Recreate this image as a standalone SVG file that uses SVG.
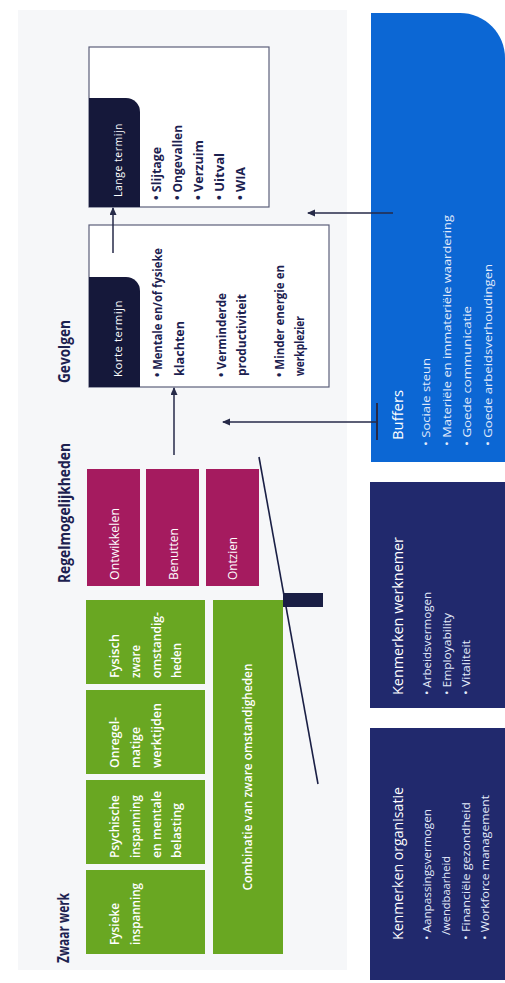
<svg xmlns="http://www.w3.org/2000/svg" width="505" height="983" viewBox="0 0 505 983">
<style>
text{font-family:"Open Sans","Noto Sans","Liberation Sans",sans-serif}
.title{font-size:16px;font-weight:700;fill:#1c2150}
.wt{font-size:12.5px;fill:#ffffff}
.gt{font-weight:600}
.green{fill:#69a722}
.mag{fill:#a51b5f}
.box{fill:#ffffff;stroke:#5c5f7a;stroke-width:1.2}
.tab{fill:#15183a}
.tabt{font-size:10.5px;fill:#ffffff;letter-spacing:0.5px}
.bul{font-size:12.5px;font-weight:700;fill:#1c2150}
.navy{fill:#21296d}
.blue{fill:#0c67d4}
.bh{font-size:14px;fill:#ffffff}
.bs{font-size:10.5px;fill:#e3ebfb}
.conn{stroke:#262a48;stroke-width:1.5;fill:none}
</style>
<defs>
<marker id="ah" markerWidth="8" markerHeight="8" refX="7" refY="3.5" orient="auto" markerUnits="userSpaceOnUse">
<path d="M0,0 L8,3.5 L0,7 z" fill="#262a48"/>
</marker>
</defs>
<rect x="0" y="0" width="505" height="983" fill="#ffffff"/>
<g transform="translate(0,983) rotate(-90)">
<rect x="13" y="18" width="960" height="329" fill="#f6f7f9"/>

<g id="zwaar-werk-title"><text class="title" x="20" y="69" textLength="70" lengthAdjust="spacingAndGlyphs">Zwaar werk</text></g>

<g id="fysieke-inspanning">
<rect class="green" x="29" y="86" width="84" height="119"/>
<text class="wt gt" x="38" y="119" textLength="42" lengthAdjust="spacingAndGlyphs">Fysieke</text>
<text class="wt gt" x="38" y="140" textLength="62" lengthAdjust="spacingAndGlyphs">inspanning</text>
</g>
<g id="psychische-inspanning">
<rect class="green" x="119" y="86" width="84" height="119"/>
<text class="wt gt" x="125" y="119" textLength="63" lengthAdjust="spacingAndGlyphs">Psychische</text>
<text class="wt gt" x="125" y="140" textLength="63" lengthAdjust="spacingAndGlyphs">inspanning</text>
<text class="wt gt" x="125" y="161" textLength="67" lengthAdjust="spacingAndGlyphs">en mentale</text>
<text class="wt gt" x="125" y="181" textLength="55" lengthAdjust="spacingAndGlyphs">belasting</text>
</g>
<g id="onregelmatige-werktijden">
<rect class="green" x="209" y="86" width="84" height="119"/>
<text class="wt gt" x="215" y="119" textLength="51" lengthAdjust="spacingAndGlyphs">Onregel-</text>
<text class="wt gt" x="215" y="140" textLength="41" lengthAdjust="spacingAndGlyphs">matige</text>
<text class="wt gt" x="215" y="161" textLength="65" lengthAdjust="spacingAndGlyphs">werktijden</text>
</g>
<g id="fysisch-zware-omstandigheden">
<rect class="green" x="299" y="86" width="84" height="119"/>
<text class="wt gt" x="305" y="119" textLength="44" lengthAdjust="spacingAndGlyphs">Fysisch</text>
<text class="wt gt" x="305" y="140" textLength="33" lengthAdjust="spacingAndGlyphs">zware</text>
<text class="wt gt" x="305" y="161" textLength="66" lengthAdjust="spacingAndGlyphs">omstandig-</text>
<text class="wt gt" x="305" y="181" textLength="35" lengthAdjust="spacingAndGlyphs">heden</text>
</g>
<g id="combinatie">
<rect class="green" x="29" y="213" width="354" height="70"/>
<text class="wt gt" x="206" y="252" text-anchor="middle" font-size="13" textLength="227" lengthAdjust="spacingAndGlyphs">Combinatie van zware omstandigheden</text>
</g>

<g id="regelmogelijkheden-title"><text class="title" x="400" y="70" textLength="140" lengthAdjust="spacingAndGlyphs">Regelmogelijkheden</text></g>
<g id="ontwikkelen">
<rect class="mag" x="397" y="87" width="117" height="53"/>
<text class="wt" x="403" y="119" textLength="72" lengthAdjust="spacingAndGlyphs">Ontwikkelen</text>
</g>
<g id="benutten">
<rect class="mag" x="397" y="146" width="117" height="53"/>
<text class="wt" x="403" y="178" textLength="52" lengthAdjust="spacingAndGlyphs">Benutten</text>
</g>
<g id="ontzien">
<rect class="mag" x="397" y="206" width="117" height="53"/>
<text class="wt" x="403" y="237" textLength="43" lengthAdjust="spacingAndGlyphs">Ontzien</text>
</g>

<g id="balans">
<rect x="376" y="283" width="14" height="40" fill="#1a1f45"/>
<line x1="526" y1="259" x2="199" y2="318" stroke="#1a1f45" stroke-width="1.6"/>
</g>

<g id="gevolgen-title"><text class="title" x="600" y="70" textLength="63" lengthAdjust="spacingAndGlyphs">Gevolgen</text></g>
<g id="korte-termijn">
<rect class="box" x="596" y="89" width="162" height="240"/>
<path class="tab" d="M596,89 H706 V126 A14,14 0 0 1 692,140 H596 Z"/>
<text class="tabt" x="606" y="122" textLength="77" lengthAdjust="spacingAndGlyphs">Korte termijn</text>
<text class="bul" x="606" y="162" textLength="129" lengthAdjust="spacingAndGlyphs">• Mentale en/of fysieke</text>
<text class="bul" x="607" y="184" textLength="55" lengthAdjust="spacingAndGlyphs">klachten</text>
<text class="bul" x="606" y="226" textLength="84" lengthAdjust="spacingAndGlyphs">• Verminderde</text>
<text class="bul" x="607" y="246" textLength="82" lengthAdjust="spacingAndGlyphs">productiviteit</text>
<text class="bul" x="606" y="284" textLength="112" lengthAdjust="spacingAndGlyphs">• Minder energie en</text>
<text class="bul" x="607" y="304" textLength="60" lengthAdjust="spacingAndGlyphs">werkplezier</text>
</g>
<g id="lange-termijn">
<rect class="box" x="776" y="89" width="160" height="180"/>
<path class="tab" d="M776,89 H885 V126 A14,14 0 0 1 871,140 H776 Z"/>
<text class="tabt" x="786" y="122" textLength="74" lengthAdjust="spacingAndGlyphs">Lange termijn</text>
<text class="bul" x="783" y="161" textLength="53" lengthAdjust="spacingAndGlyphs">• Slijtage</text>
<text class="bul" x="783" y="182" textLength="75" lengthAdjust="spacingAndGlyphs">• Ongevallen</text>
<text class="bul" x="783" y="203" textLength="60" lengthAdjust="spacingAndGlyphs">• Verzuim</text>
<text class="bul" x="783" y="224" textLength="47" lengthAdjust="spacingAndGlyphs">• Uitval</text>
<text class="bul" x="783" y="245" textLength="33" lengthAdjust="spacingAndGlyphs">• WIA</text>
</g>

<g id="buffers">
<path class="blue" d="M521,371 H970 V460 A45,45 0 0 1 925,505 H521 Z"/>
<text class="bh" x="543" y="403" font-size="15" textLength="50" lengthAdjust="spacingAndGlyphs">Buffers</text>
<text class="bs" x="537" y="430" textLength="88" lengthAdjust="spacingAndGlyphs">• Sociale steun</text>
<text class="bs" x="537" y="451" textLength="231" lengthAdjust="spacingAndGlyphs">• Materiële en immateriële waardering</text>
<text class="bs" x="537" y="471" textLength="140" lengthAdjust="spacingAndGlyphs">• Goede communicatie</text>
<text class="bs" x="537" y="492" textLength="182" lengthAdjust="spacingAndGlyphs">• Goede arbeidsverhoudingen</text>
</g>
<g id="kenmerken-werknemer">
<rect class="navy" x="275" y="370" width="226" height="140"/>
<text class="bh" x="288" y="403" textLength="158" lengthAdjust="spacingAndGlyphs">Kenmerken werknemer</text>
<text class="bs" x="288" y="431" textLength="103" lengthAdjust="spacingAndGlyphs">• Arbeidsvermogen</text>
<text class="bs" x="288" y="451" textLength="82" lengthAdjust="spacingAndGlyphs">• Employability</text>
<text class="bs" x="288" y="470" textLength="55" lengthAdjust="spacingAndGlyphs">• Vitaliteit</text>
</g>
<g id="kenmerken-organisatie">
<rect class="navy" x="3" y="370" width="252" height="140"/>
<text class="bh" x="43" y="403" textLength="153" lengthAdjust="spacingAndGlyphs">Kenmerken organisatie</text>
<text class="bs" x="43" y="431" textLength="131" lengthAdjust="spacingAndGlyphs">• Aanpassingsvermogen</text>
<text class="bs" x="48" y="450" textLength="79" lengthAdjust="spacingAndGlyphs">/wendbaarheid</text>
<text class="bs" x="43" y="470" textLength="138" lengthAdjust="spacingAndGlyphs">• Financiële gezondheid</text>
<text class="bs" x="43" y="489" textLength="145" lengthAdjust="spacingAndGlyphs">• Workforce management</text>
</g>

<g id="connectors">
<line class="conn" x1="528" y1="174" x2="595" y2="174" marker-end="url(#ah)"/>
<line class="conn" x1="730" y1="113" x2="775" y2="113" marker-end="url(#ah)"/>
<line class="conn" x1="770" y1="393" x2="770" y2="308" marker-end="url(#ah)"/>
<line class="conn" x1="561" y1="377" x2="561" y2="223" marker-end="url(#ah)"/>
<line x1="543" y1="377" x2="580" y2="377" stroke="#262a48" stroke-width="2"/>
</g>
</g>
</svg>
